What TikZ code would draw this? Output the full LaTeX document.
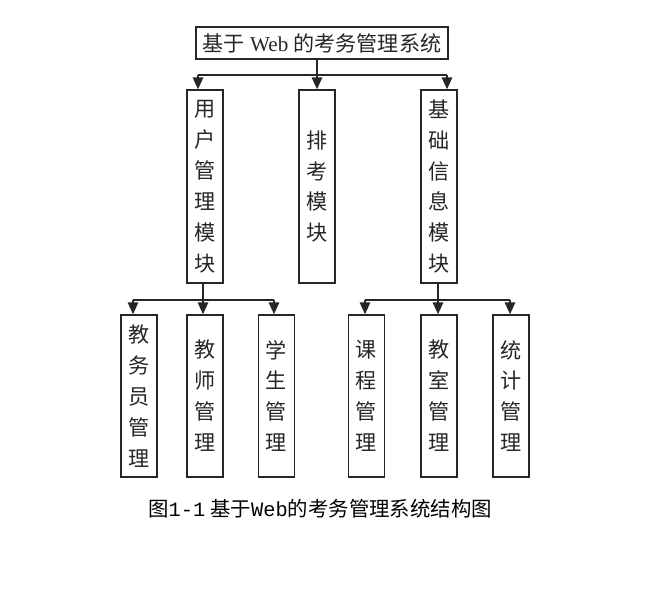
\documentclass[tikz,border=0pt]{standalone}
\usepackage{fontspec}
\setmainfont{Liberation Serif}
\newfontfamily\cjk{Noto Sans CJK SC}
\newfontfamily\monofont{Liberation Mono}
\usetikzlibrary{arrows.meta,positioning}

\begin{document}
\begin{tikzpicture}[x=0.025cm,y=-0.025cm,>={Triangle[width=7.5pt,length=8.5pt]}]
  \tikzstyle{line}=[line width=1pt,black!85]
  \tikzstyle{topbox}=[draw,line,minimum width=6.3cm,minimum height=0.8cm,inner sep=0pt,font=\fontsize{15}{17}\selectfont]
  \tikzstyle{modbox}=[draw,line,minimum width=0.9cm,minimum height=4.825cm,inner sep=0pt,align=center,font=\cjk\fontsize{15}{22}\selectfont]
  \tikzstyle{subbox}=[modbox,minimum height=4.05cm]
  \useasboundingbox (0,0) rectangle (670,605);
  % top
  \node[topbox] (sys) at (322,43) {{\cjk 基于} Web {\cjk 的考务管理系统}};
  % modules
  \node[modbox] (yh) at (205,186.5) {用\\户\\管\\理\\模\\块};
  \node[modbox] (pk) at (317,186.5) {排\\考\\模\\块};
  \node[modbox] (jc) at (439,186.5) {基\\础\\信\\息\\模\\块};
  % sub modules
  \node[subbox] (jwy) at (139,396) {教\\务\\员\\管\\理};
  \node[subbox] (js) at (205,396) {教\\师\\管\\理};
  \node[subbox] (xs) at (276.5,396) {学\\生\\管\\理};
  \node[subbox] (kc) at (366.5,396) {课\\程\\管\\理};
  \node[subbox] (jsh) at (439,396) {教\\室\\管\\理};
  \node[subbox] (tj) at (511,396) {统\\计\\管\\理};
  % bus lines
  \coordinate (b0) at (317,75);
  \coordinate (b0l) at (198,75);
  \coordinate (b0r) at (447,75);
  \coordinate (b1) at (203,300);
  \coordinate (b1l) at (133,300);
  \coordinate (b1r) at (274,300);
  \coordinate (b2) at (438,300);
  \coordinate (b2l) at (365,300);
  \coordinate (b2r) at (510,300);
  \draw[line] (sys.south -| b0) -- (b0);
  \draw[line] (b0l) -- (b0r);
  \draw[line,->] (b0l) -- (b0l |- yh.north);
  \draw[line,->] (b0) -- (pk.north);
  \draw[line,->] (b0r) -- (b0r |- jc.north);
  \draw[line] (yh.south -| b1) -- (b1);
  \draw[line] (b1l) -- (b1r);
  \draw[line,->] (b1l) -- (b1l |- jwy.north);
  \draw[line,->] (b1) -- (b1 |- js.north);
  \draw[line,->] (b1r) -- (b1r |- xs.north);
  \draw[line] (jc.south -| b2) -- (b2);
  \draw[line] (b2l) -- (b2r);
  \draw[line,->] (b2l) -- (b2l |- kc.north);
  \draw[line,->] (b2) -- (b2 |- jsh.north);
  \draw[line,->] (b2r) -- (b2r |- tj.north);
  % caption
  \node[font=\fontsize{14.5}{16}\selectfont] (cap) at (320,509) {{\cjk 图}{\monofont 1-1} {\cjk 基于}{\monofont Web}{\cjk 的考务管理系统结构图}};
\end{tikzpicture}
\end{document}
